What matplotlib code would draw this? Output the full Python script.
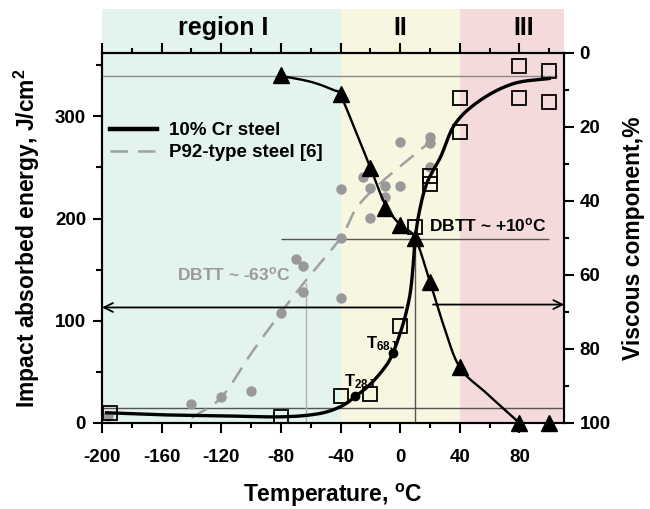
import numpy as np
import matplotlib
matplotlib.use('Agg')
import matplotlib.pyplot as plt
from matplotlib import rcParams
from matplotlib.lines import Line2D
from matplotlib.ticker import MultipleLocator
import matplotlib.transforms as mtransforms

rcParams['font.family'] = ['Liberation Sans', 'DejaVu Sans']
rcParams['font.weight'] = 'bold'
rcParams['mathtext.fontset'] = 'custom'
rcParams['mathtext.rm'] = 'Liberation Sans:bold'
rcParams['mathtext.bf'] = 'Liberation Sans:bold'
rcParams['mathtext.it'] = 'Liberation Sans:bold'
rcParams['mathtext.default'] = 'bf'
rcParams['axes.linewidth'] = 1.5
rcParams['axes.unicode_minus'] = False

# ---- data ----
# 10% Cr steel, impact absorbed energy (open squares)
cr_temp = [-195, -80, -40, -20, 0, 10, 20, 20, 40, 40, 80, 80, 100, 100]
cr_energy = [10, 6, 26, 28, 95, 192, 242, 234, 318, 285, 349, 318, 344, 314]
# fitted curve for 10% Cr steel energy
cr_fit_temp = [-197, -160, -120, -80, -55, -40, -30, -20, -10, -5, 0, 4, 7, 9, 10, 13, 18, 27, 37, 54, 76, 100]
cr_fit_energy = [10, 8, 7, 6, 9, 16, 26, 38, 55, 68, 88, 108, 130, 160, 180, 208, 235, 260, 293, 316, 332, 337]

# 10% Cr steel, viscous component (triangles, right axis)
vc_temp = [-80, -40, -20, -10, 0, 10, 20, 40, 80, 100]
vc_pct = [6, 11, 31, 42, 46.5, 50, 62, 85, 100, 100]
vc_fit_temp = [-80, -60, -45, -40, -30, -20, -10, 0, 10, 20, 29, 40, 58, 80]
vc_fit_pct = [6.2, 7.8, 10, 11.5, 21, 31, 41, 46.5, 50, 62, 73.5, 85, 92, 100]

# P92-type steel [6] (grey circles)
p92_temp = [-196, -140, -120, -100, -80, -70, -65, -65, -40, -40, -40, -25, -20, -20,
            -10, -10, 0, 0, 20, 20, 20]
p92_energy = [7, 19, 25, 31, 108, 160, 154, 128, 229, 181, 122, 241, 230, 201,
              232, 221, 275, 232, 280, 274, 250]
p92_fit_temp = [-140, -120, -100, -80, -63, -40, -29, -13, 5, 20]
p92_fit_energy = [5, 25, 68, 108, 140, 181, 211, 235, 257, 275]

# T28J / T68J points
t_temp = [-30, -5]
t_energy = [26, 68]

# reference levels
upper_shelf = 339
lower_shelf = 15
dbtt_energy = 180
dbtt_cr = 10
dbtt_p92 = -63
dbtt_p92_energy = 137
arrow_energy = 113
arrow_pct = 68

regions = [(-200, -40, '#e3f4ec', 'region I', -119),
           (-40, 40, '#f7f6e1', 'II', 0),
           (40, 110, '#f5dadb', 'III', 83)]


def smooth(x, y, n=24):
    # Catmull-Rom spline through the given points
    x = np.asarray(x, float)
    y = np.asarray(y, float)
    px = np.concatenate([[2 * x[0] - x[1]], x, [2 * x[-1] - x[-2]]])
    py = np.concatenate([[2 * y[0] - y[1]], y, [2 * y[-1] - y[-2]]])
    s = np.linspace(0, 1, n, endpoint=False)
    ox, oy = [], []
    for i in range(1, len(px) - 2):
        for p, out in ((px, ox), (py, oy)):
            p0, p1, p2, p3 = p[i - 1], p[i], p[i + 1], p[i + 2]
            out.extend(0.5 * (2 * p1 + (-p0 + p2) * s
                              + (2 * p0 - 5 * p1 + 4 * p2 - p3) * s ** 2
                              + (-p0 + 3 * p1 - 3 * p2 + p3) * s ** 3))
    ox.append(x[-1])
    oy.append(y[-1])
    return np.array(ox), np.array(oy)


fig = plt.figure(figsize=(6.5, 5.09), dpi=100)
ax = fig.add_axes([0.157, 0.169, 0.711, 0.727])
ax.set_xlim(-200, 110)
ax.set_ylim(0, 362)

trans = mtransforms.blended_transform_factory(ax.transData, ax.transAxes)
for x0, x1, col, lab, xl in regions:
    ax.axvspan(x0, x1, ymin=0, ymax=1.119, color=col, lw=0, zorder=0, clip_on=False)
    ax.text(xl, 1.068, lab, transform=trans, ha='center', va='center', fontsize=18,
            fontweight='bold')

# reference lines
ax.hlines(upper_shelf, -200, 105, color='#8a8a8a', lw=1.0, zorder=1)
ax.hlines(lower_shelf, -200, 110, color='#555555', lw=1.0, zorder=1)
ax.hlines(dbtt_energy, -80, 100, color='#555555', lw=1.0, zorder=1)
ax.vlines(dbtt_cr, 0, dbtt_energy, color='#555555', lw=1.0, zorder=1)
ax.vlines(dbtt_p92, 0, dbtt_p92_energy, color='#b0b0b0', lw=1.0, zorder=1)

# P92
fx, fy = smooth(p92_fit_temp, p92_fit_energy)
ax.plot(fx, fy, color='#a0a0a0', lw=1.8, dashes=[7, 4], zorder=2)
ax.plot(p92_temp, p92_energy, 'o', color='#999999', ms=7.5, mec='none', zorder=3)

# 10% Cr energy
fx, fy = smooth(cr_fit_temp, cr_fit_energy)
ax.plot(fx, fy, color='k', lw=2.4, zorder=4)
ax.plot(cr_temp, cr_energy, 's', mfc='none', mec='k', ms=10, mew=1.3, zorder=5)
ax.plot(t_temp, t_energy, 'o', color='k', ms=6, zorder=5)

ax.annotate('', xy=(-200, arrow_energy), xytext=(2, arrow_energy),
            arrowprops=dict(arrowstyle='->', lw=1.3, color='k', shrinkA=0, shrinkB=0,
                            mutation_scale=16), zorder=3)

ax.text(19, 193, 'DBTT ~ +10$^{o}$C', fontsize=12.5, fontweight='bold', va='center')
ax.text(-150, 145, 'DBTT ~ -63$^{o}$C', fontsize=12.5, fontweight='bold', va='center',
        color='#9a9a9a')
ax.text(-38, 40, 'T$_{28J}$', fontsize=12, fontweight='bold', va='center')
ax.text(-23, 78, 'T$_{68J}$', fontsize=12, fontweight='bold', va='center')

ax.xaxis.set_major_locator(MultipleLocator(40))
ax.xaxis.set_minor_locator(MultipleLocator(20))
ax.yaxis.set_major_locator(MultipleLocator(100))
ax.yaxis.set_minor_locator(MultipleLocator(50))
ax.tick_params(axis='x', which='both', top=True, labeltop=False, direction='out',
               width=1.5, labelsize=13.5)
ax.tick_params(axis='x', which='major', length=7, pad=12)
ax.tick_params(axis='x', which='minor', length=3.5)
ax.tick_params(axis='y', which='both', direction='out', width=1.5, labelsize=13.5)
ax.tick_params(axis='y', which='major', length=6.5, pad=5)
ax.tick_params(axis='y', which='minor', length=4)
ax.set_xlabel('Temperature, $^{o}$C', fontsize=16.5, fontweight='bold', labelpad=11)
ax.set_ylabel('Impact absorbed energy, J/cm$^{2}$', fontsize=16.5, fontweight='bold',
              labelpad=9)

handles = [Line2D([], [], color='k', lw=3.2),
           Line2D([], [], color='#a0a0a0', lw=1.8, dashes=[7, 4])]
leg = ax.legend(handles, ['10% Cr steel', 'P92-type steel [6]'], loc='upper left',
                bbox_to_anchor=(-0.02, 0.858), frameon=False, fontsize=13.5,
                handlelength=2.55, handletextpad=0.6, labelspacing=0.25)

# viscous component, right axis
ax2 = ax.twinx()
ax2.set_ylim(100, 0)
fx, fy = smooth(vc_fit_temp, vc_fit_pct)
ax2.plot(fx, fy, color='k', lw=1.7, zorder=4)
ax2.plot(vc_temp, vc_pct, '^', color='k', ms=11, clip_on=False, zorder=5)
ax2.annotate('', xy=(110, arrow_pct), xytext=(22, arrow_pct),
             arrowprops=dict(arrowstyle='->', lw=1.3, color='k', shrinkA=0, shrinkB=0,
                             mutation_scale=16))
ax2.yaxis.set_major_locator(MultipleLocator(20))
ax2.yaxis.set_minor_locator(MultipleLocator(10))
ax2.tick_params(axis='y', which='both', direction='out', width=1.5, labelsize=13.5)
ax2.tick_params(axis='y', which='major', length=7, pad=4)
ax2.tick_params(axis='y', which='minor', length=3.5)
ax2.set_ylabel('Viscous component,%', fontsize=16.5, fontweight='bold', labelpad=8)

fig.savefig('out.png', dpi=100)
